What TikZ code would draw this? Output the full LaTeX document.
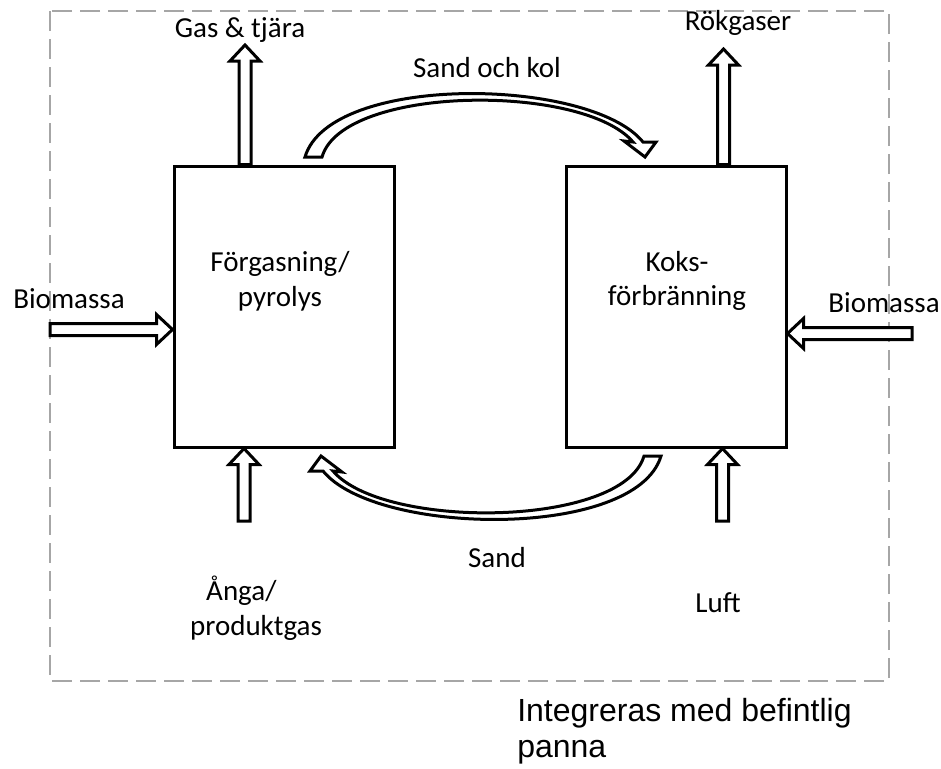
\documentclass[tikz,border=0pt]{standalone}
\usepackage{fontspec}
\setmainfont{Carlito}
\newfontfamily\arialfont{Liberation Sans}
\usetikzlibrary{calc}

% hollow straight arrow, from #1 to #2
\newcommand\blockpil[2]{%
  \draw[pil] let \p1=#1, \p2=#2,
      \n1={atan2(\y2-\y1,\x2-\x1)}, \n2={veclen(\x2-\x1,\y2-\y1)} in
    {[shift={(\p1)}, rotate=\n1]
      (0pt,-4.5pt) -- ({\n2-12pt},-4.5pt) -- ({\n2-12pt},-11.25pt) -- (\n2,0pt)
      -- ({\n2-12pt},11.25pt) -- ({\n2-12pt},4.5pt) -- (0pt,4.5pt) -- cycle};}

% hollow curved arrow, tail #1 to tip #2
\newcommand\bandpil[2]{%
  \draw[pil] let \p1=#1, \p2=#2, \n1={atan2(\y2-\y1,\x2-\x1)} in
    {[shift={(\p1)}, rotate=\n1, x=0.75pt, y=0.75pt]
      (0,0) .. controls (25,84) and (285,80) .. (338,15) -- (351,15) -- (340,0)
      -- (319,16) -- (328,15) .. controls (278,74) and (38,72) .. (17,0) -- cycle};}

\begin{document}
\begin{tikzpicture}[
            x=0.75pt, y=-0.75pt,
            reaktor/.style = {draw, line width=2.25pt, minimum width=165pt,
                    minimum height=210.75pt, inner sep=0pt},
            pil/.style = {draw, fill=white, line width=2.25pt, line join=miter},
            etikett/.style = {inner sep=0pt, align=center,
                    font=\fontsize{21.75}{26}\selectfont},
            ram/.style = {draw=black!35, line width=1.5pt,
                    dash pattern=on 15pt off 6pt}]

        \useasboundingbox (0,0) rectangle (941,768);
        \draw [ram] (50,11) rectangle (889,681);

        % reaktorer
        \node [reaktor] (forg) at (284,306.5) {};
        \node [reaktor] (koks) at (676,306.5) {};
        \node [etikett] (forgtext) at (280,281) {Förgasning/\\pyrolys};
        \node [etikett] (kokstext) at (677,281) {Koks-\\förbränning};

        % fria ändar
        \coordinate (gasut)  at (245,45);
        \coordinate (rokut)  at (723.5,49);
        \coordinate (angain) at (244,521);
        \coordinate (luftin) at (722.5,521);
        \coordinate (biovin) at (50,329.5);
        \coordinate (biohin) at (912,333.5);
        \coordinate (kolfran)  at (305,157);
        \coordinate (koltill)  at (645,157);
        \coordinate (sandfran) at (661,456);
        \coordinate (sandtill) at (322,456);

        %% pilar
        \blockpil{(gasut |- forg.north)}{(gasut)}
        \blockpil{(rokut |- koks.north)}{(rokut)}
        \blockpil{(angain)}{(angain |- forg.south)}
        \blockpil{(luftin)}{(luftin |- koks.south)}
        \blockpil{(biovin)}{(biovin -| forg.west)}
        \blockpil{(biohin)}{(biohin -| koks.east)}
        \bandpil{(kolfran)}{(koltill)}
        \bandpil{(sandfran)}{(sandtill)}

        % texter
        \node [etikett, anchor=base] (gastext)  at (240,37)  {Gas \& tjära};
        \node [etikett, anchor=base] (roktext)  at (738,30)  {Rökgaser};
        \node [etikett, anchor=base] (koltext)  at (487,77)  {Sand och kol};
        \node [etikett, anchor=base] (biovtext) at (69,308)  {Biomassa};
        \node [etikett, anchor=base] (biohtext) at (884,312) {Biomassa};
        \node [etikett, anchor=base] (sandtext) at (497,567) {Sand};
        \node [etikett]              (angatext) at (256,608)
            {Ånga/\hspace*{22pt}\\produktgas};
        \node [etikett, anchor=base] (lufttext) at (718,612) {Luft};
        \node [anchor=west, align=left, inner sep=0pt,
            font=\arialfont\fontsize{24}{27}\selectfont] (panntext)
            at (517,731) {Integreras med befintlig\\panna};
\end{tikzpicture}
\end{document}
